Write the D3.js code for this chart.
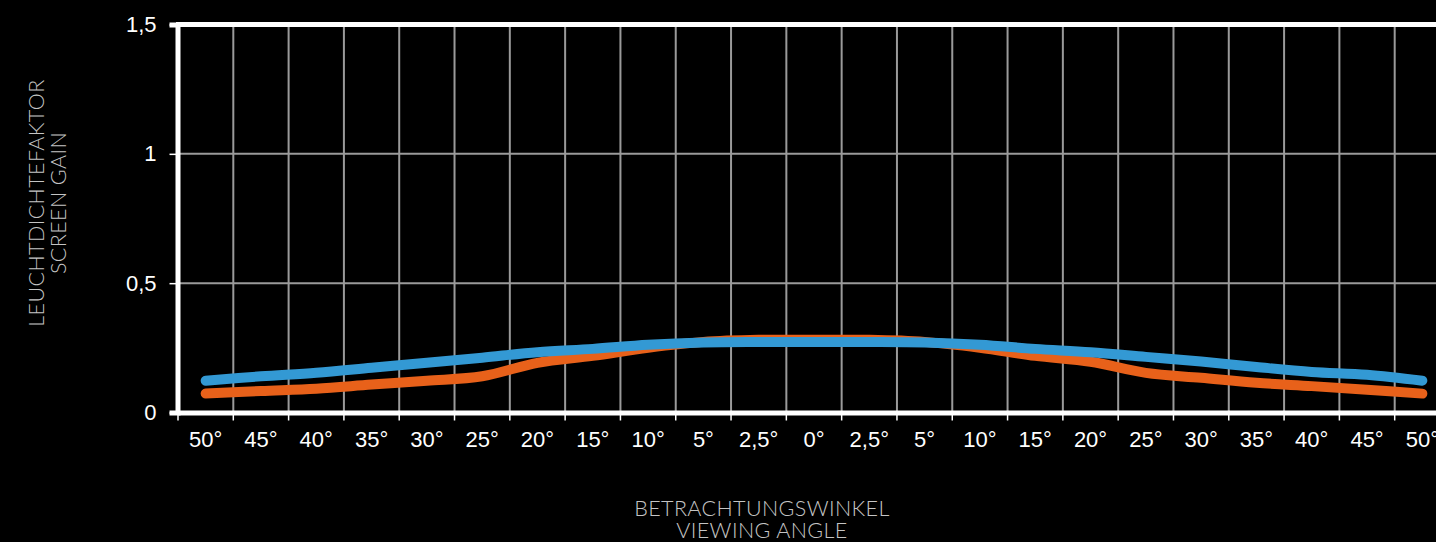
<!DOCTYPE html>
<html><head><meta charset="utf-8">
<script src="https://cdn.jsdelivr.net/npm/d3@7"></script>
<style>html,body{margin:0;padding:0;background:#000;overflow:hidden}</style>
</head><body>
<svg id="chart" width="1436" height="542"></svg>
<script>
const categories = ["50°","45°","40°","35°","30°","25°","20°","15°","10°","5°","2,5°","0°","2,5°","5°","10°","15°","20°","25°","30°","35°","40°","45°","50°"];
const blueValues   = [0.123,0.140,0.154,0.173,0.192,0.212,0.233,0.246,0.262,0.271,0.273,0.273,0.273,0.271,0.262,0.246,0.233,0.215,0.197,0.176,0.157,0.146,0.123];
const orangeValues = [0.073,0.083,0.092,0.108,0.123,0.140,0.192,0.219,0.250,0.273,0.281,0.281,0.281,0.273,0.250,0.219,0.196,0.153,0.134,0.115,0.102,0.088,0.073];
const yTicks = [0, 0.5, 1, 1.5];
const yTickLabels = ["0","0,5","1","1,5"];

const svg = d3.select("#chart");
const x = d3.scaleBand().domain(d3.range(categories.length)).range([178, 1450]).padding(0);
const y = d3.scaleLinear().domain([0, 1.5]).range([412.5, 24.5]);
const lf = "'Liberation Sans', Arial, sans-serif";

// gridlines vertical (band boundaries)
const bounds = d3.range(1, categories.length + 1).map(i => x.range()[0] + i * x.step());
svg.append("g").selectAll("line").data(bounds).join("line")
  .attr("x1", d => d).attr("x2", d => d).attr("y1", y(1.5)).attr("y2", y(0))
  .attr("stroke", "#9a9a9a").attr("stroke-width", 2);
// horizontal gridlines
svg.append("g").selectAll("line").data([0.5, 1]).join("line")
  .attr("x1", 178).attr("x2", 1450).attr("y1", d => y(d)).attr("y2", d => y(d))
  .attr("stroke", "#9a9a9a").attr("stroke-width", 2);
// top border
svg.append("line").attr("x1", 176).attr("x2", 1450).attr("y1", y(1.5)).attr("y2", y(1.5))
  .attr("stroke", "#fff").attr("stroke-width", 5);

// y axis
const yAxis = d3.axisLeft(y).tickValues(yTicks).tickFormat((d, i) => yTickLabels[i]).tickSize(8).tickPadding(13);
const gy = svg.append("g").attr("transform", "translate(177.5,0)").call(yAxis);
gy.select(".domain").attr("stroke", "#fff").attr("stroke-width", 5);
gy.selectAll(".tick line").attr("stroke", "#fff").attr("stroke-width", 1.5);
gy.selectAll(".tick text").attr("fill", "#fff").attr("font-family", lf).attr("font-size", 22);

// x axis
const xAxis = d3.axisBottom(x).tickFormat(i => categories[i]).tickSize(0).tickPadding(19);
const gx = svg.append("g").attr("transform", `translate(0,${y(0)})`).call(xAxis);
gx.select(".domain").attr("stroke", "#fff").attr("stroke-width", 5);
gx.selectAll(".tick text").attr("fill", "#fff").attr("font-family", lf).attr("font-size", 22);
// x tick marks at band boundaries
svg.append("g").selectAll("line").data([178, ...bounds]).join("line")
  .attr("x1", d => d).attr("x2", d => d).attr("y1", y(0)).attr("y2", y(0) + 8)
  .attr("stroke", "#fff").attr("stroke-width", 1.5);

// lines
const line = d3.line().x((d, i) => x(i) + x.bandwidth() / 2).y(d => y(d)).curve(d3.curveCatmullRom.alpha(0.5));
svg.append("path").datum(orangeValues).attr("d", line).attr("fill", "none")
  .attr("stroke", "#e8611a").attr("stroke-width", 10).attr("stroke-linecap", "round").attr("stroke-linejoin", "round");
svg.append("path").datum(blueValues).attr("d", line).attr("fill", "none")
  .attr("stroke", "#3399d4").attr("stroke-width", 10).attr("stroke-linecap", "round").attr("stroke-linejoin", "round");

// axis titles
const tf = "Lato, 'Open Sans', sans-serif";
const tc = "#c4c4c4";
const xt = svg.append("text").attr("text-anchor", "middle").attr("fill", tc)
  .attr("font-family", tf).attr("font-weight", 300).attr("font-size", 21.5).attr("letter-spacing", 0.4);
xt.append("tspan").attr("x", 762).attr("y", 516).text("BETRACHTUNGSWINKEL");
xt.append("tspan").attr("x", 762).attr("y", 538).text("VIEWING ANGLE");

const yt = svg.append("text").attr("transform", "translate(0,203) rotate(-90)").attr("text-anchor", "middle").attr("fill", tc)
  .attr("font-family", tf).attr("font-weight", 300).attr("font-size", 21.5).attr("letter-spacing", 0.4);
yt.append("tspan").attr("x", 0).attr("y", 44).text("LEUCHTDICHTEFAKTOR");
yt.append("tspan").attr("x", 0).attr("y", 66).text("SCREEN GAIN");
</script>
</body></html>
